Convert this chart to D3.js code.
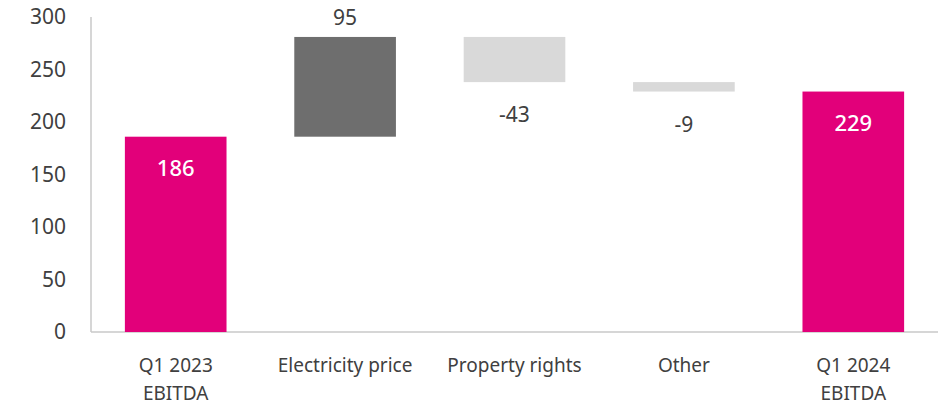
<!DOCTYPE html>
<html>
<head>
<meta charset="utf-8">
<script src="https://cdn.jsdelivr.net/npm/d3@7"></script>
<style>
    body { margin: 0; background: #fff; }
    text { font-family: "Noto Sans", sans-serif; fill: #404040; }
</style>
</head>
<body>
<div id="chart-area"></div>
<script>
const categories = ["Q1 2023|EBITDA", "Electricity price", "Property rights", "Other", "Q1 2024|EBITDA"];
const values = [186, 95, -43, -9, 229];
const kinds = ["total", "up", "down", "down", "total"];
const yTicks = [0, 50, 100, 150, 200, 250, 300];

const colors = { total: "#e2007a", up: "#6e6e6e", down: "#d9d9d9" };

// build waterfall start/end
let running = 0;
const data = categories.map((c, i) => {
    let start, end;
    if (kinds[i] === "total") {
        start = 0; end = values[i]; running = values[i];
    } else {
        start = running; end = running + values[i]; running = end;
    }
    return { name: c, value: values[i], kind: kinds[i], start: start, end: end };
});

const svg = d3.select("#chart-area").append("svg")
    .attr("width", 943)
    .attr("height", 405);

const x = d3.scaleBand()
    .domain(categories)
    .range([91, 938])
    .paddingInner(0.4)
    .paddingOuter(0.2);

const y = d3.scaleLinear()
    .domain([0, 300])
    .range([332, 17]);

// axes lines
svg.append("line")
    .attr("x1", 91).attr("x2", 91)
    .attr("y1", y(300)).attr("y2", y(0))
    .attr("stroke", "#c8c8c8").attr("stroke-width", 1.5);

svg.append("line")
    .attr("x1", 91).attr("x2", 938)
    .attr("y1", y(0)).attr("y2", y(0))
    .attr("stroke", "#c8c8c8").attr("stroke-width", 1.5);

svg.selectAll(".ytick")
    .data(yTicks)
    .enter()
    .append("text")
    .attr("class", "ytick")
    .attr("x", 66)
    .attr("y", (d) => y(d))
    .attr("dy", "0.35em")
    .attr("text-anchor", "end")
    .attr("font-size", 21)
    .text((d) => d);

svg.selectAll(".bar")
    .data(data)
    .enter()
    .append("rect")
    .attr("class", "bar")
    .attr("x", (d) => x(d.name))
    .attr("width", x.bandwidth())
    .attr("y", (d) => y(Math.max(d.start, d.end)))
    .attr("height", (d) => Math.abs(y(d.start) - y(d.end)))
    .attr("fill", (d) => colors[d.kind]);

// value labels
svg.selectAll(".val")
    .data(data)
    .enter()
    .append("text")
    .attr("class", "val")
    .attr("x", (d) => x(d.name) + x.bandwidth() / 2)
    .attr("y", (d) => {
        if (d.kind === "total") return y(d.end) + 32;
        if (d.kind === "up") return y(d.end) - 19;
        return y(d.end) + 33;
    })
    .attr("dy", "0.35em")
    .attr("text-anchor", "middle")
    .attr("font-size", (d) => d.kind === "total" ? 22 : 21)
    .attr("font-weight", (d) => d.kind === "total" ? 500 : 400)
    .style("fill", (d) => d.kind === "total" ? "#fff" : "#404040")
    .text((d) => d.value);

// category labels
const cats = svg.selectAll(".cat")
    .data(categories)
    .enter()
    .append("text")
    .attr("class", "cat")
    .attr("x", (d) => x(d) + x.bandwidth() / 2)
    .attr("y", 372)
    .attr("text-anchor", "middle")
    .attr("font-size", 19);

cats.selectAll("tspan")
    .data((d) => d.split("|"))
    .enter()
    .append("tspan")
    .attr("x", function () { return d3.select(this.parentNode).attr("x"); })
    .attr("dy", (d, i) => i === 0 ? 0 : 28)
    .text((d) => d);
</script>
</body>
</html>
